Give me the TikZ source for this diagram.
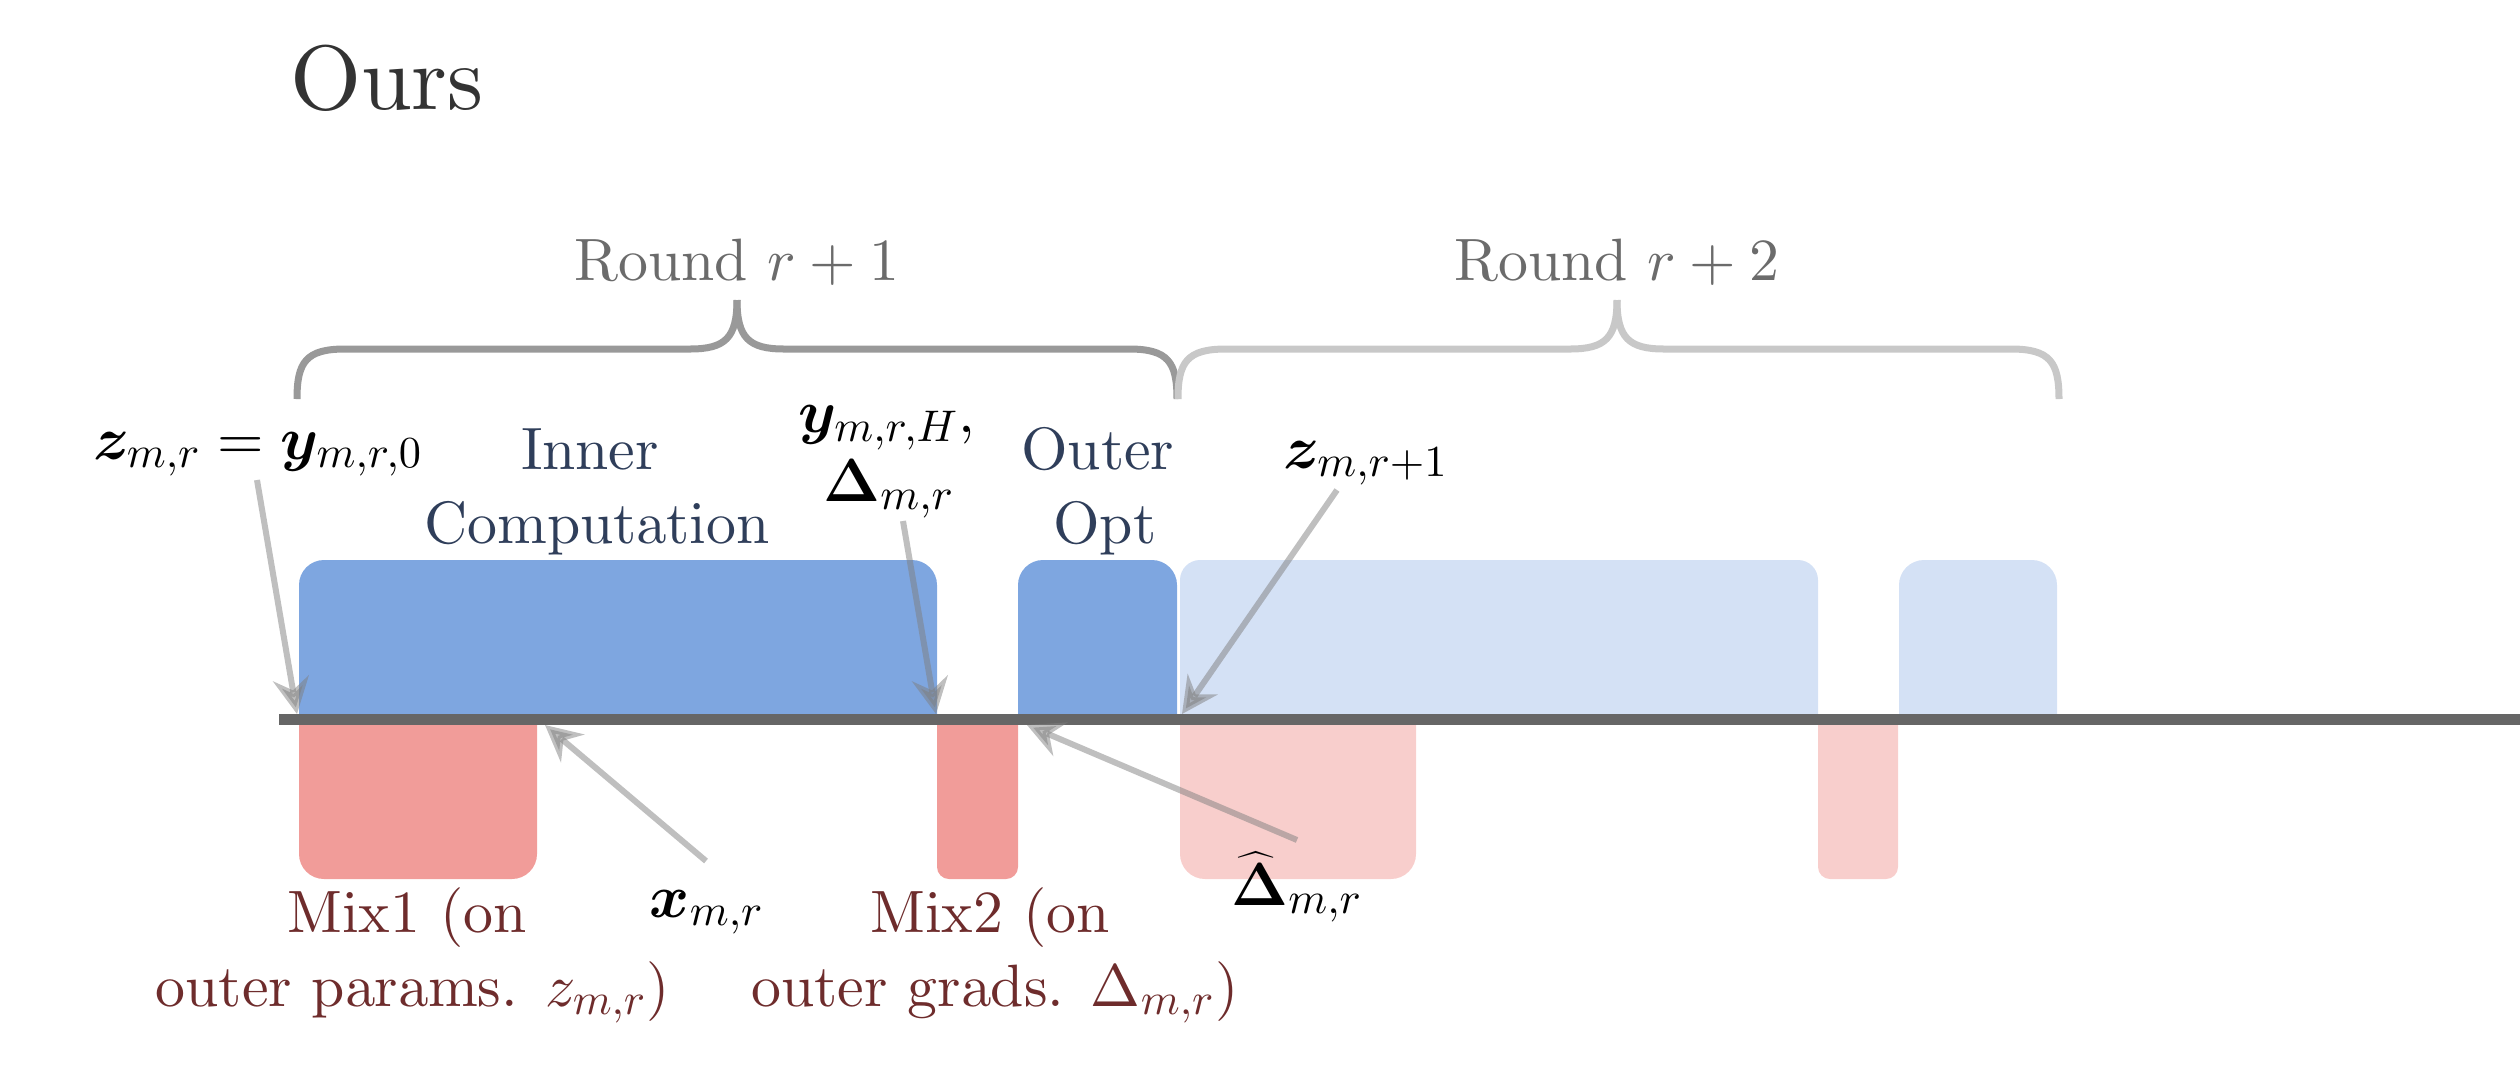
\documentclass[tikz,border=0pt]{standalone}
\usepackage{bm}
\usetikzlibrary{arrows.meta}
\DeclareFontShape{OT1}{cmr}{m}{n}{<->cmr10}{}
\DeclareFontShape{OML}{cmm}{m}{it}{<->cmmi10}{}
\DeclareFontShape{OMS}{cmsy}{m}{n}{<->cmsy10}{}
\DeclareMathSizes{17}{17}{12.6}{9}
\newcommand{\cmtext}{\fontencoding{OT1}\fontfamily{cmr}\fontseries{m}\fontshape{n}}
\newcommand{\hatDelta}{\bm{\Delta}\llap{$\widehat{\vphantom{\bm{\Delta}}\hphantom{\bm{x}}}$\hskip3.4pt}}
\definecolor{bluebox}{HTML}{7EA6E0}
\definecolor{bluelight}{HTML}{D4E1F5}
\definecolor{redbox}{HTML}{F19C99}
\definecolor{redlight}{HTML}{F8CECC}
\definecolor{navytext}{HTML}{2F3E5A}
\definecolor{redtext}{HTML}{6E2C2C}
\definecolor{roundtext}{HTML}{6B6B6B}
\definecolor{braceA}{HTML}{999999}
\definecolor{braceB}{HTML}{C8C8C8}
\definecolor{axisline}{HTML}{666666}
\definecolor{titletext}{HTML}{333333}
\definecolor{arrowgray}{HTML}{7F7F7F}
\begin{document}
\begin{tikzpicture}[x=0.01cm,y=-0.01cm,
  every node/.style={inner sep=0pt,outer sep=0pt,font=\cmtext\fontsize{17}{21}\selectfont},
  lbl/.style={anchor=base},
  navy/.style={lbl,text=navytext},
  mixlbl/.style={lbl,text=redtext},
  mathlbl/.style={lbl,text=black},
  roundlbl/.style={lbl,text=roundtext},
  bracepath/.style={line width=0.07cm,line cap=butt,line join=round},
  arr/.style={draw=arrowgray,opacity=0.5,line width=0.06cm,
    -{Stealth[length=0.36cm,width=0.36cm,inset=0.12cm]}},
]
\useasboundingbox (0,0) rectangle (2520,1078);

% title
\node[anchor=base west,text=titletext,font=\cmtext\fontsize{26}{30}\selectfont] (title) at (290,109) {Ours};

% braces
\draw[bracepath,braceA] (297,399) .. controls (297,362) and (306,349) .. (345,349)
  -- (690,349) .. controls (725,349) and (737,338) .. (737,300);
\draw[bracepath,braceA] (737,300) .. controls (737,338) and (749,349) .. (784,349)
  -- (1129,349) .. controls (1168,349) and (1177,362) .. (1177,399);
\draw[bracepath,braceB] (1178,399) .. controls (1178,362) and (1187,349) .. (1226,349)
  -- (1570,349) .. controls (1605,349) and (1617,338) .. (1617,300);
\draw[bracepath,braceB] (1617,300) .. controls (1617,338) and (1629,349) .. (1664,349)
  -- (2011,349) .. controls (2050,349) and (2059,362) .. (2059,399);
\node[roundlbl] (round1) at (737,280) {Round $r+1$};
\node[roundlbl] (round2) at (1617,280) {Round $r+2$};

% blue boxes (top)
\fill[bluebox] (299,719) [rounded corners=0.25cm] -- (299,560) -- (937,560) [sharp corners] -- (937,719) -- cycle;
\fill[bluebox] (1018,719) [rounded corners=0.25cm] -- (1018,560) -- (1177,560) [sharp corners] -- (1177,719) -- cycle;
\fill[bluelight] (1180,719) [rounded corners=0.2cm] -- (1180,560) -- (1818,560) [sharp corners] -- (1818,719) -- cycle;
\fill[bluelight] (1899,719) [rounded corners=0.25cm] -- (1899,560) -- (2057,560) [sharp corners] -- (2057,719) -- cycle;

% red boxes (bottom)
\fill[redbox] (299,719) [rounded corners=0.25cm] -- (299,879) -- (537,879) [sharp corners] -- (537,719) -- cycle;
\fill[redbox] (937,719) [rounded corners=0.12cm] -- (937,879) -- (1018,879) [sharp corners] -- (1018,719) -- cycle;
\fill[redlight] (1180,719) [rounded corners=0.25cm] -- (1180,879) -- (1416,879) [sharp corners] -- (1416,719) -- cycle;
\fill[redlight] (1818,719) [rounded corners=0.12cm] -- (1818,879) -- (1898,879) [sharp corners] -- (1898,719) -- cycle;

% timeline
\coordinate (tl0) at (279,719);
\coordinate (tl1) at (2520,719);
\draw[axisline,line width=0.11cm] (tl0) -- (tl1);

% labels above
\node[mathlbl] (zeq) at (258,459) {$\bm{z}_{m,r} = \bm{y}_{m,r,0}$};
\node[navy] (inner1) at (590,469) {Inner};
\node[navy] (inner2) at (597,543) {Computation};
\node[mathlbl] (yh1) at (887,432) {$\bm{y}_{m,r,H}$,};
\node[mathlbl] (yh2) at (889,501) {$\bm{\Delta}_{m,r}$};
\node[navy] (outer1) at (1098,469) {Outer};
\node[navy] (outer2) at (1105,543) {Opt};
\node[mathlbl] (znext) at (1366,468) {$\bm{z}_{m,r+1}$};

% labels below
\node[mixlbl] (mix1a) at (407,932) {Mix1 (on};
\node[mixlbl] (mix1b) at (413,1006) {outer params. $z_{m,r}$)};
\node[mathlbl] (xmr) at (707,917) {$\bm{x}_{m,r}$};
\node[mixlbl] (mix2a) at (990,932) {Mix2 (on};
\node[mixlbl] (mix2b) at (995,1006) {outer grads. $\Delta_{m,r}$)};
\node[mathlbl] (dhat) at (1297,905) {$\hatDelta_{m,r}$};

% arrow end points
\coordinate (a1s) at (257,480);  \coordinate (a1e) at (297,714);
\coordinate (a2s) at (903,521);  \coordinate (a2e) at (936,714);
\coordinate (a3s) at (1337,490); \coordinate (a3e) at (1182,714);
\coordinate (a4s) at (706,861);  \coordinate (a4e) at (545,725);
\coordinate (a5s) at (1297,840); \coordinate (a5e) at (1027,725);

\draw[arr] (a1s) -- (a1e);
\draw[arr] (a2s) -- (a2e);
\draw[arr] (a3s) -- (a3e);
\draw[arr] (a4s) -- (a4e);
\draw[arr] (a5s) -- (a5e);
\end{tikzpicture}
\end{document}
